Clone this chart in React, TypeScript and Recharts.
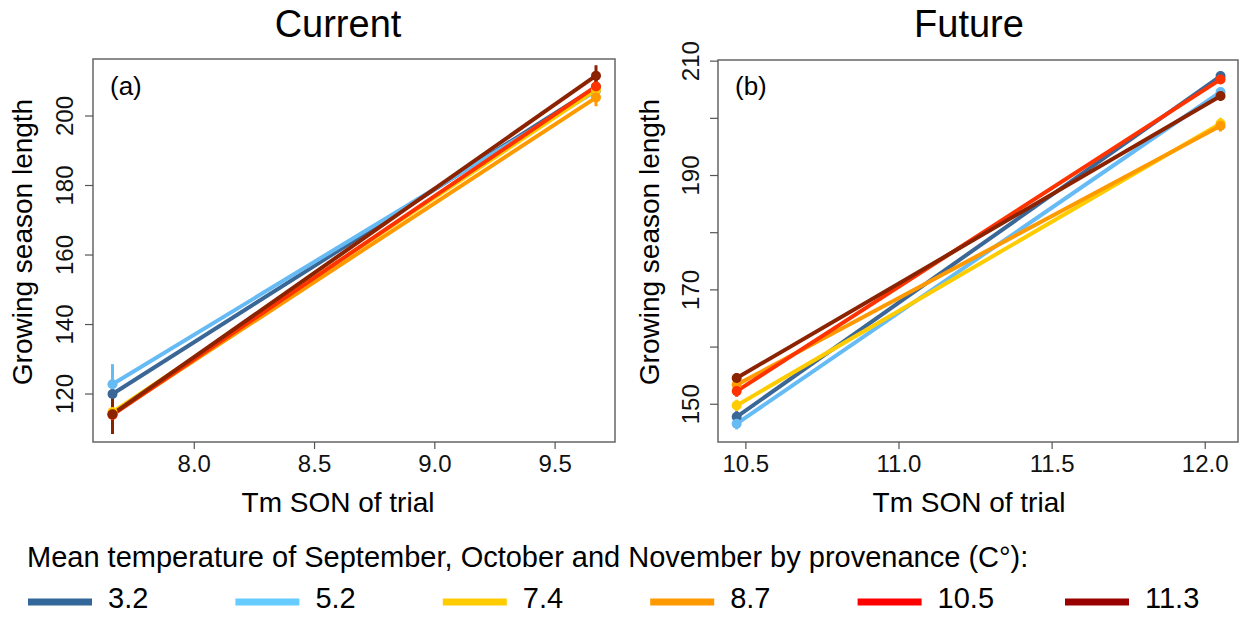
import React from "react";
import { LineChart, Line, XAxis, YAxis, ErrorBar, ReferenceArea } from "recharts";

// provenance groups (mean Sep-Nov temperature, C°)
const provenances = ["3.2", "5.2", "7.4", "8.7", "10.5", "11.3"];
const lineColors = ["#3a6796", "#66bbf5", "#ffcc00", "#ff9900", "#ff3300", "#8b2200"];
const legendColors = ["#336699", "#66ccff", "#ffcc00", "#ff9900", "#ff0000", "#990000"];

// Current climate panel
const currentX = [7.66, 9.67];
const currentStart = [120.0, 122.8, 114.8, 114.2, 114.0, 114.2];
const currentEnd = [208.3, 207.2, 207.5, 205.3, 208.5, 211.6];
const currentStartErr = [3, 5.8, 5.5, 5.5, 5, 5.7];
const currentEndErr = [2, 2, 2, 2.5, 2, 3];
const currentXTicks = [8.0, 8.5, 9.0, 9.5];
const currentYTicks = [120, 140, 160, 180, 200];

// Future climate panel
const futureX = [10.47, 12.05];
const futureStart = [147.8, 146.6, 149.8, 153.4, 152.3, 154.6];
const futureEnd = [207.4, 204.6, 199.1, 198.7, 206.8, 203.9];
const futureStartErr = [1, 1, 1, 1, 1, 0.8];
const futureEndErr = [0.8, 0.8, 1, 1, 0.8, 0.8];
const futureXTicks = [10.5, 11.0, 11.5, 12.0];
const futureYTicks = [150, 160, 170, 180, 190, 200, 210];
const futureYLabels = [150, 170, 190, 210];

const FONT = "'Liberation Sans', Arial, Helvetica, sans-serif";

function buildRows(xs: number[], start: number[], end: number[], se: number[], ee: number[]) {
  return xs.map((x, i) => {
    const row: any = { x };
    provenances.forEach((_, k) => {
      row["v" + k] = i === 0 ? start[k] : end[k];
      row["e" + k] = i === 0 ? se[k] : ee[k];
    });
    return row;
  });
}

const XTick = (props: any) => (
  <text x={props.x} y={props.y + 21} textAnchor="middle" fontSize={24} fill="#111" fontFamily={FONT}>
    {Number(props.payload.value).toFixed(1)}
  </text>
);

const makeYTick = (shift: number, show?: number[]) => (props: any) => {
  const v = props.payload.value;
  if (show && !show.includes(v)) return <g />;
  const x = props.x - shift;
  return (
    <text
      x={x}
      y={props.y}
      transform={`rotate(-90, ${x}, ${props.y})`}
      textAnchor="middle"
      fontSize={24}
      fill="#111"
      fontFamily={FONT}
    >
      {v}
    </text>
  );
};

interface PanelProps {
  title: string;
  tag: string;
  left: number;
  rows: any[];
  xDomain: [number, number];
  yDomain: [number, number];
  xTicks: number[];
  yTicks: number[];
  yLabels?: number[];
  yLabelShift: number;
  width: number;
  marginTop: number;
  yTitleX: number;
  titleCx: number;
}

function Panel(p: PanelProps) {
  const plotLeft = 93;
  return (
    <div style={{ position: "absolute", left: p.left, top: 0, width: p.width, height: 530 }}>
      <LineChart
        width={p.width}
        height={530}
        data={p.rows}
        margin={{ top: p.marginTop, right: 25, bottom: 0, left: 0 }}
      >
        <XAxis
          dataKey="x"
          type="number"
          domain={p.xDomain}
          allowDataOverflow
          ticks={p.xTicks}
          height={88}
          axisLine={false}
          tickSize={7}
          tickLine={{ stroke: "#555", strokeWidth: 1.2 }}
          tick={<XTick />}
        />
        <YAxis
          type="number"
          domain={p.yDomain}
          allowDataOverflow
          ticks={p.yTicks}
          width={plotLeft}
          axisLine={false}
          tickSize={8}
          tickLine={{ stroke: "#555", strokeWidth: 1.2 }}
          tick={makeYTick(p.yLabelShift, p.yLabels)}
        />
        <ReferenceArea
          x1={p.xDomain[0]}
          x2={p.xDomain[1]}
          y1={p.yDomain[0]}
          y2={p.yDomain[1]}
          fill="none"
          stroke="#666"
          strokeWidth={1.5}
          ifOverflow="visible"
        />
        {provenances.map((name, k) => (
          <Line
            key={name}
            dataKey={"v" + k}
            name={name}
            stroke={lineColors[k]}
            strokeWidth={4}
            dot={{ r: 5, fill: lineColors[k], stroke: lineColors[k], strokeWidth: 0 }}
            activeDot={false}
            isAnimationActive={false}
          >
            <ErrorBar dataKey={"e" + k} width={0} strokeWidth={3} stroke={lineColors[k]} direction="y" />
          </Line>
        ))}
      </LineChart>
      <svg width={p.width} height={530} style={{ position: "absolute", left: 0, top: 0, pointerEvents: "none" }}>
        <text x={p.titleCx} y={37} textAnchor="middle" fontSize={38} fontFamily={FONT} fill="#000">
          {p.title}
        </text>
        <text x={plotLeft + 17} y={95} fontSize={26} fontFamily={FONT} fill="#000">
          {p.tag}
        </text>
        <text x={p.titleCx} y={512} textAnchor="middle" fontSize={28} fontFamily={FONT} fill="#000">
          Tm SON of trial
        </text>
        <text
          x={p.yTitleX}
          y={242}
          transform={`rotate(-90, ${p.yTitleX}, 242)`}
          textAnchor="middle"
          fontSize={28}
          fontFamily={FONT}
          fill="#000"
        >
          Growing season length
        </text>
      </svg>
    </div>
  );
}

export default function App() {
  const currentRows = buildRows(currentX, currentStart, currentEnd, currentStartErr, currentEndErr);
  const futureRows = buildRows(futureX, futureStart, futureEnd, futureStartErr, futureEndErr);
  return (
    <div style={{ position: "absolute", left: 0, top: 0, width: 1243, height: 622, background: "#fff", fontFamily: FONT }}>
      <Panel
        title="Current"
        tag="(a)"
        left={0}
        rows={currentRows}
        xDomain={[7.579, 9.749]}
        yDomain={[106.2, 216.4]}
        xTicks={currentXTicks}
        yTicks={currentYTicks}
        yLabelShift={10}
        width={640}
        marginTop={59}
        yTitleX={32}
        titleCx={338}
      />
      <Panel
        title="Future"
        tag="(b)"
        left={625}
        rows={futureRows}
        xDomain={[10.409, 12.107]}
        yDomain={[143.4, 210.2]}
        xTicks={futureXTicks}
        yTicks={futureYTicks}
        yLabels={futureYLabels}
        yLabelShift={9}
        width={638}
        marginTop={60}
        yTitleX={34}
        titleCx={344}
      />
      <svg width={1243} height={622} style={{ position: "absolute", left: 0, top: 0, pointerEvents: "none" }}>
        <text x={27} y={567} fontSize={29} fontFamily={FONT} fill="#000">
          Mean temperature of September, October and November by provenance (C°):
        </text>
        {provenances.map((name, k) => (
          <g key={name}>
            <rect x={28 + k * 207.4} y={598.5} width={64} height={7} fill={legendColors[k]} />
            <text x={108 + k * 207.4} y={608} fontSize={29} fontFamily={FONT} fill="#000">
              {name}
            </text>
          </g>
        ))}
      </svg>
    </div>
  );
}
